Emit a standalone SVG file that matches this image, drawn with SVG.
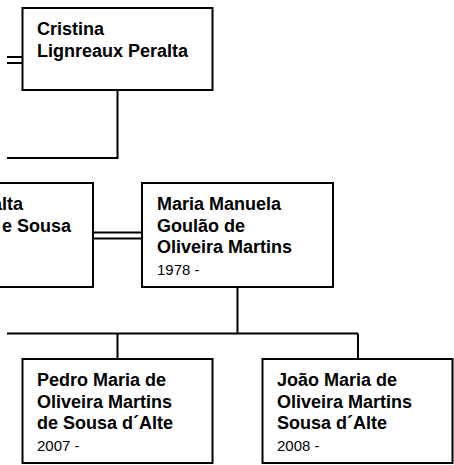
<svg xmlns="http://www.w3.org/2000/svg" width="454" height="465" viewBox="0 0 454 465">
<style>
.box{fill:#fff;stroke:#000;stroke-width:2}
.ln{fill:none;stroke:#000;stroke-width:2}
.nm{font-family:"Liberation Sans",Arial,sans-serif;font-weight:bold;font-size:18px;fill:#000}
.dt{font-family:"Liberation Sans",Arial,sans-serif;font-size:15px;fill:#000}
</style>
<rect width="454" height="465" fill="#fff"/>
<g id="connectors">
<path class="ln" d="M7,57H22.5M7,63H22.5"/>
<path class="ln" d="M117.5,90V158H7"/>
<path class="ln" d="M93,232.5H142M93,238.5H142"/>
<path class="ln" d="M237.5,287V333.5M7,333.5H358M117.5,333.5V359M358,333.5V359"/>
</g>
<g id="node-cristina">
<rect class="box" x="22.5" y="8" width="190" height="82"/>
<text class="nm" x="37" y="35">Cristina</text>
<text class="nm" x="37" y="56.5">Lignreaux Peralta</text>
</g>
<g id="node-spouse">
<rect class="box" x="-98" y="183" width="191" height="104"/>
<text class="nm" x="23" y="210" text-anchor="end">alta</text>
<text class="nm" x="71" y="231.5" text-anchor="end">e Sousa</text>
</g>
<g id="node-maria">
<rect class="box" x="142" y="183" width="191" height="104"/>
<text class="nm" x="157" y="210">Maria Manuela</text>
<text class="nm" x="157" y="231.5">Goulão de</text>
<text class="nm" x="157" y="253">Oliveira Martins</text>
<text class="dt" x="157" y="274.5">1978 -</text>
</g>
<g id="node-pedro">
<rect class="box" x="22.5" y="359" width="190" height="104"/>
<text class="nm" x="37" y="386">Pedro Maria de</text>
<text class="nm" x="37" y="407.5">Oliveira Martins</text>
<text class="nm" x="37" y="429">de Sousa d´Alte</text>
<text class="dt" x="37" y="450.5">2007 -</text>
</g>
<g id="node-joao">
<rect class="box" x="262.5" y="359" width="190" height="104"/>
<text class="nm" x="277" y="386">João Maria de</text>
<text class="nm" x="277" y="407.5">Oliveira Martins</text>
<text class="nm" x="277" y="429">Sousa d´Alte</text>
<text class="dt" x="277" y="450.5">2008 -</text>
</g>
</svg>
